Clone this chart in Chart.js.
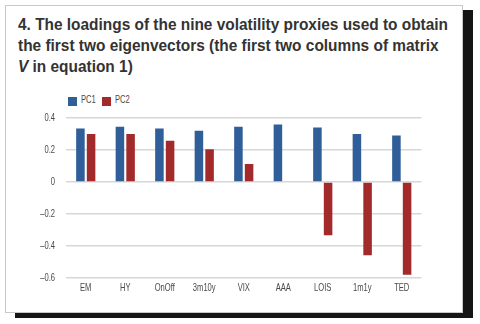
<!DOCTYPE html>
<html>
<head>
<meta charset="utf-8">
<script src="https://cdn.jsdelivr.net/npm/chart.js@4"></script>
<style>
  html, body { margin: 0; padding: 0; background: #fff; }
  body { width: 480px; height: 324px; position: relative; overflow: hidden; }
  .card {
    position: absolute; left: 5px; top: 5px; width: 456px; height: 306px;
    border: 1px solid #c9c9c9; background: #fff;
    box-shadow: 10px 5px 0 #151515;
  }
  .title {
    position: absolute; left: 18px; top: 14px;
    font: bold 16px 'Liberation Sans', Arial, sans-serif;
    line-height: 21px; color: #333;
  }
  .title span { display: block; white-space: nowrap; transform-origin: left center; }
  .title span b { display: inline-block; }
  .legend span { position: absolute; }
  .legend .box { width: 9px; height: 9px; top: 97px; }
  .legend .txt {
    top: 93px; font: 11.5px 'Liberation Sans', Arial, sans-serif; color: #4a4a4a;
    white-space: nowrap; transform: scaleX(0.66); transform-origin: left center;
  }
  #chart { position: absolute; left: 0; top: 0; }
</style>
</head>
<body>
<div class="card"></div>
<div class="title" id="title">
  <span><b>4. The loadings of the nine volatility proxies used to obtain</b></span>
  <span><b>the first two eigenvectors (the first two columns of matrix</b></span>
  <span><b><i>V</i> in equation 1)</b></span>
</div>
<div class="legend" id="legend"></div>
<canvas id="chart" width="480" height="324"></canvas>
<script>
const proxies = ['EM', 'HY', 'OnOff', '3m10y', 'VIX', 'AAA', 'LOIS', '1m1y', 'TED'];
const pc1 = [0.335, 0.345, 0.335, 0.32, 0.345, 0.36, 0.34, 0.30, 0.29];
const pc2 = [0.30, 0.30, 0.258, 0.205, 0.113, 0.0, -0.333, -0.458, -0.58];
const yTicks = [0.4, 0.2, 0, -0.2, -0.4, -0.6];

const seriesNames = ['PC1', 'PC2'];
const seriesColors = ['#2f5e98', '#a22a2b'];

// squeeze the title lines to the narrow width of the printed headline
var titleLines = document.querySelectorAll('#title span');
var squeeze = 430 / titleLines[0].querySelector('b').getBoundingClientRect().width;
titleLines.forEach(function(l) { l.style.transform = 'scaleX(' + squeeze + ')'; });

// legend above the plot, left aligned with it
var legendEl = document.getElementById('legend');
var legendX = [68, 102];
seriesNames.forEach(function(name, i) {
  legendEl.innerHTML += '<span class="box" style="left:' + legendX[i] + 'px;background:' + seriesColors[i] + '"></span>' +
    '<span class="txt" style="left:' + (legendX[i] + 13) + 'px">' + name + '</span>';
});

function fmt(v) {
  if (Math.abs(v) < 1e-9) return '0';
  return (v < 0 ? '\u2013' : '') + Math.abs(v).toFixed(1);
}

function squeezedText(c, text, x, y) {
  c.save();
  c.translate(x, y);
  c.scale(0.66, 1);
  c.fillText(text, 0, 0);
  c.restore();
}

// condensed tick labels, placed from the scales
const condensedLabels = {
  id: 'condensedLabels',
  afterDraw: function(chart) {
    var c = chart.ctx, xs = chart.scales.x, ys = chart.scales.y;
    c.save();
    c.fillStyle = '#4a4a4a';
    c.font = '11.5px "Liberation Sans", Arial, sans-serif';
    c.textBaseline = 'middle';
    c.textAlign = 'center';
    xs.ticks.forEach(function(t, i) {
      squeezedText(c, xs.getLabelForValue(t.value), xs.getPixelForTick(i), xs.top + 10);
    });
    c.textAlign = 'right';
    ys.ticks.forEach(function(t) {
      squeezedText(c, fmt(t.value), ys.right - 11, ys.getPixelForValue(t.value));
    });
    c.restore();
  }
};

var ctx = document.getElementById('chart').getContext('2d');
new Chart(ctx, {
  type: 'bar',
  data: {
    labels: proxies,
    datasets: [
      { label: seriesNames[0], data: pc1, backgroundColor: seriesColors[0] },
      { label: seriesNames[1], data: pc2, backgroundColor: seriesColors[1] }
    ]
  },
  options: {
    responsive: false,
    animation: false,
    categoryPercentage: 0.54,
    barPercentage: 0.8,
    layout: { padding: { left: 18, right: 58.5, top: 118, bottom: 0 } },
    plugins: { legend: { display: false }, tooltip: { enabled: false } },
    scales: {
      x: {
        grid: { display: false, drawTicks: false },
        border: { display: false },
        ticks: { display: false },
        afterFit: function(s) { s.height = 46; }
      },
      y: {
        min: -0.6,
        max: 0.4,
        afterBuildTicks: function(s) { s.ticks = yTicks.map(function(v) { return { value: v }; }); },
        grid: { color: '#d7d7d7', lineWidth: 1.5, drawTicks: false },
        border: { display: false },
        ticks: { display: false },
        afterFit: function(s) { s.width = 48; }
      }
    }
  },
  plugins: [condensedLabels]
});
</script>
</body>
</html>
